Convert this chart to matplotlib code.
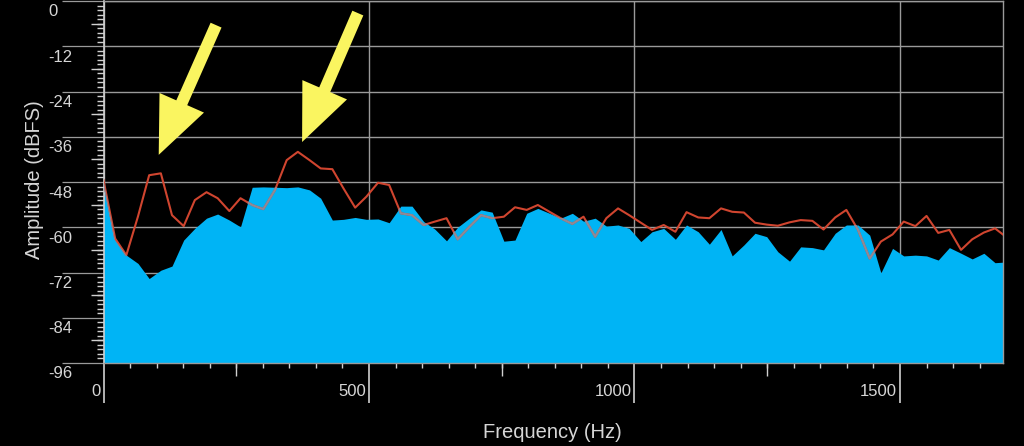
import numpy as np
import matplotlib
matplotlib.use('Agg')
import matplotlib.pyplot as plt
from matplotlib.ticker import MultipleLocator, FixedLocator
from matplotlib.transforms import ScaledTranslation

# ---------------- data ----------------
freq_hz = [0, 22, 43, 65, 86, 108, 129, 151, 172, 194, 215, 237, 258, 280, 301,
           323, 345, 366, 388, 409, 431, 452, 474, 495, 517, 538, 560, 581, 603,
           624, 646, 667, 689, 711, 732, 754, 775, 797, 818, 840, 861, 883, 904,
           926, 947, 969, 990, 1012, 1033, 1055, 1077, 1098, 1120, 1141, 1163,
           1184, 1206, 1227, 1249, 1270, 1292, 1313, 1335, 1356, 1378, 1399, 1421,
           1443, 1464, 1486, 1507, 1529, 1550, 1572, 1593, 1615, 1636, 1658, 1679,
           1701]

measured_db = [-47.5, -63.4, -67.4, -69.6, -73.6, -71.4, -70.3, -63.4, -60.3, -57.6,
               -56.5, -58.1, -59.9, -49.4, -49.3, -49.4, -49.5, -49.3, -50.1, -52.3,
               -58.1, -57.9, -57.4, -57.9, -57.8, -58.8, -54.4, -54.4, -58.5, -60.5,
               -63.6, -60.0, -57.6, -55.4, -56.0, -63.7, -63.4, -56.3, -55.0, -56.3,
               -57.6, -56.3, -58.4, -57.6, -59.7, -59.4, -60.3, -63.8, -61.2, -60.3,
               -63.2, -59.4, -61.2, -64.5, -60.6, -67.6, -64.7, -61.6, -62.5, -66.5,
               -69.0, -65.2, -65.4, -66.0, -61.6, -59.4, -59.4, -62.1, -72.1, -65.6,
               -67.6, -67.4, -67.6, -68.7, -65.4, -66.9, -68.4, -66.9, -69.4, -69.2]

reference_db = [-47.5, -63.0, -67.4, -57.1, -46.2, -45.7, -56.8, -59.7, -52.8, -50.7,
                -52.3, -55.7, -52.3, -54.1, -55.2, -50.1, -42.2, -40.0, -42.2, -44.4,
                -44.6, -49.7, -54.8, -51.9, -48.2, -48.8, -56.3, -56.8, -59.4, -58.5,
                -57.6, -63.2, -59.9, -56.8, -57.6, -57.2, -54.7, -55.4, -54.1, -55.9,
                -57.6, -59.1, -57.2, -62.5, -57.6, -55.0, -56.8, -58.8, -60.7, -59.4,
                -61.2, -56.0, -57.4, -57.6, -55.0, -55.9, -56.1, -58.8, -59.3, -59.6,
                -58.7, -58.1, -58.3, -60.6, -57.4, -55.4, -60.7, -68.3, -63.8, -61.9,
                -58.5, -59.7, -57.0, -61.5, -60.7, -66.0, -63.2, -61.4, -60.3, -62.7]

y_ticks = [0, -12, -24, -36, -48, -60, -72, -84, -96]
y_tick_labels = ['0', '-12', '-24', '-36', '-48', '-60', '-72', '-84', '-96']
y_mid_ticks = [-6, -18, -30, -42, -54, -66, -78, -90]
x_ticks = [0, 500, 1000, 1500]
x_tick_labels = ['0', '500', '1000', '1500']
x_mid_ticks = [250, 750, 1250]

arrow_tips = [(104, -40.8), (374, -37.4)]
arrow_tails = [(212, -6.4), (479, -3.2)]

x_label = 'Frequency (Hz)'
y_label = 'Amplitude (dBFS)'

# ---------------- style ----------------
BG = 'black'
FILL = '#00B4F5'
RED = '#D0452F'
OVERLAP = '#8E8A98'
GRID = '#9A9A9A'
TICK = '#D0D0D0'
TEXT = '#D6D6D6'
YELLOW = '#FAF560'
FONT = 'Liberation Sans'

fig = plt.figure(figsize=(10.24, 4.46), dpi=100, facecolor=BG)
W, H = 1024, 446
ax = fig.add_axes([103.5 / W, 1 - 363 / H, (1003 - 103.5) / W, 362 / H])
ax.set_facecolor(BG)
ax.set_xlim(0, 1694)
ax.set_ylim(-96, 0)

poly = ax.fill_between(freq_hz, measured_db, -96, color=FILL, lw=0, zorder=2)
ax.plot(freq_hz, reference_db, color=RED, lw=1.5, zorder=3)
over, = ax.plot(freq_hz, reference_db, color=OVERLAP, lw=1.5, zorder=4)
over.set_clip_path(poly.get_paths()[0], ax.transData)

ax.set_axisbelow(True)
ax.grid(True, color=GRID, lw=1.0)

for s in ['top', 'right', 'bottom']:
    ax.spines[s].set_color(GRID)
    ax.spines[s].set_linewidth(1.0)
ax.spines['left'].set_color(TICK)
ax.spines['left'].set_linewidth(1.2)

ax.set_yticks(y_ticks)
ax.set_xticks(x_ticks)
ax.set_yticklabels([])
ax.set_xticklabels([])
ax.yaxis.set_minor_locator(MultipleLocator(1.2))
ax.xaxis.set_minor_locator(MultipleLocator(50))
ax.tick_params(axis='y', which='major', length=30.2, width=0.9, color=GRID, direction='out')
ax.tick_params(axis='y', which='minor', length=5, width=1.0, color=TICK, direction='out')
ax.tick_params(axis='x', which='major', length=29, width=1.2, color=TICK, direction='out')
ax.tick_params(axis='x', which='minor', length=3.8, width=1.0, color=TICK, direction='out')

secy = ax.secondary_yaxis('left')
secy.yaxis.set_major_locator(FixedLocator(y_mid_ticks))
secy.tick_params(length=9.4, width=1.0, color=TICK, labelleft=False)
secy.spines['left'].set_visible(False)
secx = ax.secondary_xaxis('bottom')
secx.xaxis.set_major_locator(FixedLocator(x_mid_ticks))
secx.tick_params(length=9.4, width=1.0, color=TICK, labelbottom=False)
secx.spines['bottom'].set_visible(False)

ytr = ax.get_yaxis_transform() + ScaledTranslation(-55 / 100, -11 / 100, fig.dpi_scale_trans)
for v, lab in zip(y_ticks, y_tick_labels):
    ax.text(0, v, lab, transform=ytr, ha='left', va='center', color=TEXT,
            fontsize=12, family=FONT, clip_on=False)
xtr = ax.get_xaxis_transform() + ScaledTranslation(-3 / 100, -29 / 100, fig.dpi_scale_trans)
for v, lab in zip(x_ticks, x_tick_labels):
    ax.text(v, 0, lab, transform=xtr, ha='right', va='center', color=TEXT,
            fontsize=12, family=FONT, clip_on=False)

fig.text(552 / W, 1 - 432 / H, x_label, ha='center', va='center', color=TEXT,
         fontsize=14.5, family=FONT)
fig.text(35 / W, 1 - 180 / H, y_label, ha='center', va='center', color=TEXT,
         fontsize=14.5, family=FONT, rotation=90)

for tip, tail in zip(arrow_tips, arrow_tails):
    ax.annotate('', xy=tip, xytext=tail, annotation_clip=False,
                arrowprops=dict(facecolor=YELLOW, edgecolor='none', width=8.6,
                                headwidth=35, headlength=41, shrink=0), zorder=6)

fig.savefig('out.png', dpi=100, facecolor=BG)
